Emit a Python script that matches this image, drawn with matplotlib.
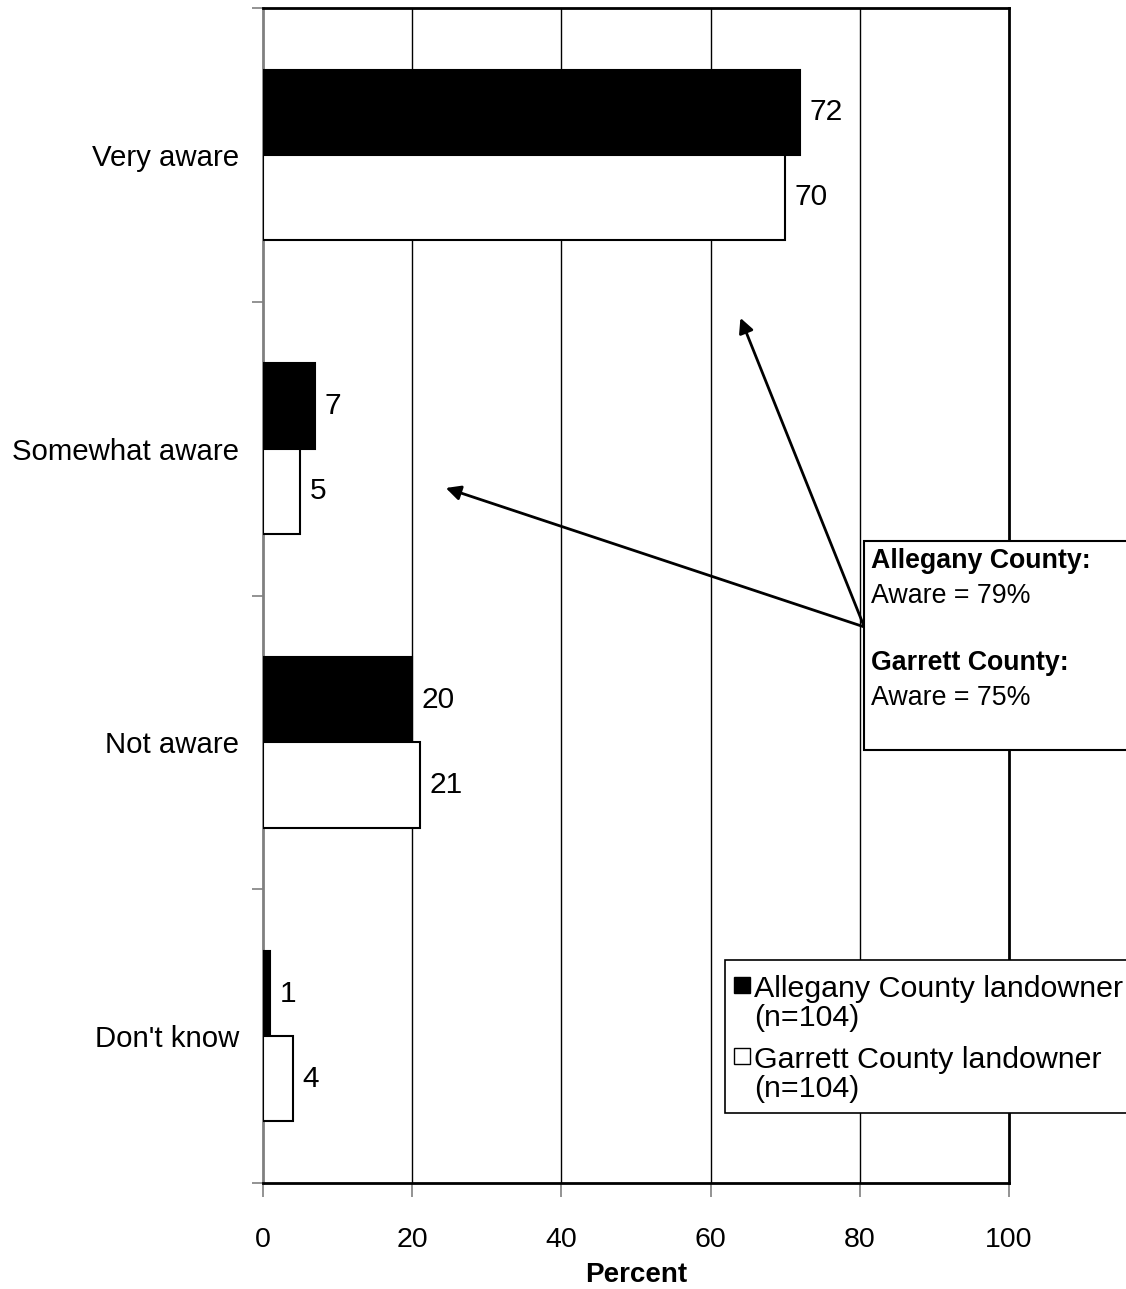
import numpy as np
import matplotlib.pyplot as plt
from matplotlib.patches import Rectangle

plt.rcParams['font.family'] = ['Liberation Sans', 'DejaVu Sans']

categories = ['Very aware', 'Somewhat aware', 'Not aware', "Don't know"]
allegany = [72, 7, 20, 1]
garrett = [70, 5, 21, 4]
series_labels = ['Allegany County landowner\n(n=104)', 'Garrett County landowner\n(n=104)']
series_colors = ['black', 'white']
x_ticks = [0, 20, 40, 60, 80, 100]

W, H = 1126, 1289
fig = plt.figure(figsize=(W / 100, H / 100), dpi=100)
ax = fig.add_axes([263 / W, 1 - 1183 / H, (1009 - 263) / W, (1183 - 8) / H])

centers = np.arange(len(categories)) + 0.5
h = 0.29
b1 = ax.barh(centers - h / 2, allegany, height=h, color=series_colors[0], edgecolor='black',
             linewidth=1.5, zorder=3)
b2 = ax.barh(centers + h / 2, garrett, height=h, color=series_colors[1], edgecolor='black',
             linewidth=1.5, zorder=3)

for bars, vals in [(b1, allegany), (b2, garrett)]:
    for rect, v in zip(bars, vals):
        ax.annotate(str(v), (v, rect.get_y() + rect.get_height() / 2),
                    xytext=(7, 0), textcoords='offset points',
                    ha='left', va='center', fontsize=21.5)

ax.set_xlim(0, 100)
ax.set_ylim(4, 0)
ax.set_xticks(x_ticks)
ax.set_xticklabels([str(t) for t in x_ticks], fontsize=20.5)
ax.set_yticks(np.arange(len(categories) + 1))
ax.set_yticklabels([])
ax.set_yticks(centers, minor=True)
ax.set_yticklabels(categories, minor=True, fontsize=21.2)
ax.tick_params(axis='y', which='minor', length=0, pad=17)
ax.tick_params(axis='y', which='major', length=8, color='#808080', width=1.2)
ax.tick_params(axis='x', length=10, color='#808080', width=1.2, pad=22)

for t in x_ticks[1:-1]:
    ax.axvline(t, color='black', linewidth=1, zorder=1)

for s in ['top', 'right', 'bottom']:
    ax.spines[s].set_color('black')
    ax.spines[s].set_linewidth(2)
ax.spines['left'].set_color('#808080')
ax.spines['left'].set_linewidth(2)

ax.set_xlabel('Percent', fontsize=20, fontweight='bold', labelpad=6)

# callout box
fig.patches.append(Rectangle((864 / W, 1 - 750 / H), 0.3, (750 - 541) / H, transform=fig.transFigure,
                             facecolor='white', edgecolor='black', linewidth=1.5, zorder=5))
tx = 871 / W
fs_box = 19.3
fig.text(tx, 1 - 568 / H, 'Allegany County:', fontsize=fs_box, fontweight='bold', va='baseline', zorder=6)
fig.text(tx, 1 - 603 / H, 'Aware = 79%', fontsize=fs_box, va='baseline', zorder=6)
fig.text(tx, 1 - 670 / H, 'Garrett County:', fontsize=fs_box, fontweight='bold', va='baseline', zorder=6)
fig.text(tx, 1 - 705 / H, 'Aware = 75%', fontsize=fs_box, va='baseline', zorder=6)

start = (80.6, 2.107)
for tip in [(64.0, 1.055), (24.5, 1.634)]:
    ax.annotate('', xy=tip, xytext=start, zorder=7,
                arrowprops=dict(arrowstyle='-|>', color='black', lw=2,
                                mutation_scale=22, shrinkA=0, shrinkB=0))

# legend (drawn by hand so the swatch sits on the first line)
fig.patches.append(Rectangle((725 / W, 1 - 1113 / H), 0.4, (1113 - 960) / H, transform=fig.transFigure,
                             facecolor='white', edgecolor='black', linewidth=1.2, zorder=8))
for i, (lab, col) in enumerate(zip(series_labels, series_colors)):
    base = 997 + i * 71
    fig.patches.append(Rectangle((734 / W, 1 - (base - 4) / H), 16 / W, 16 / H,
                                 transform=fig.transFigure, facecolor=col,
                                 edgecolor='black', linewidth=1, zorder=9))
    fig.text(754 / W, 1 - (base - 22) / H, lab, fontsize=21.9, va='top', ha='left',
             linespacing=1.05, zorder=9)

fig.savefig('out.png', dpi=100)
